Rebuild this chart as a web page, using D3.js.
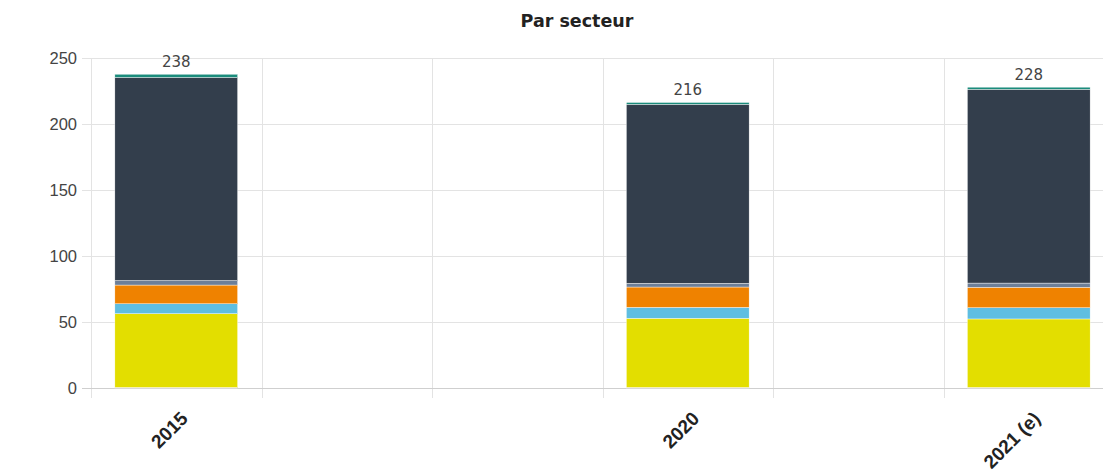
<!DOCTYPE html>
<html lang="fr">
<head>
<meta charset="UTF-8">
<title>Par secteur</title>
<script src="https://d3js.org/d3.v7.min.js"></script>
<style>
  body { margin: 0; background: #fff; overflow: hidden; }
  svg { display: block; font-family: "DejaVu Sans", "Noto Sans", sans-serif; }
  .title { font-weight: bold; font-size: 17.5px; fill: #222; }
  .grid line { stroke: #e3e3e3; }
  .ytick text { font-size: 16.5px; fill: #444; }
  .xtick text { font-size: 19px; font-weight: bold; fill: #222; }
  .total { font-size: 15px; fill: #444; }
</style>
</head>
<body>
<svg id="chart"></svg>
<script>
// band keys and the labels shown under them (some bands carry no label)
const categories = ["2015", "b2", "b3", "2020", "b5", "2021 (e)"];
const tickLabels = ["2015", "", "", "2020", "", "2021 (e)"];
const yTicks = [0, 50, 100, 150, 200, 250];

// stacked series, bottom to top
const seriesNames = ["s1", "s2", "s3", "s4", "s5", "s6", "s7"];
const seriesColors = ["#c9a23a", "#e3de00", "#5fbee1", "#ef8200", "#6d7f98", "#333e4c", "#1b8c7c"];
const s1 = [0.5, null, null, 0.5, null, 0.5];
const s2 = [55.8, null, null, 52.3, null, 51.8];
const s3 = [7.5, null, null, 8.3, null, 8.5];
const s4 = [14.2, null, null, 15.4, null, 15.5];
const s5 = [3.4, null, null, 2.8, null, 3.2];
const s6 = [153.9, null, null, 135.6, null, 146.8];
const s7 = [2.4, null, null, 1.4, null, 1.6];
const seriesValues = [s1, s2, s3, s4, s5, s6, s7];

const width = 1103, height = 470;
const svg = d3.select("#chart").attr("width", width).attr("height", height);

const x = d3.scaleBand().domain(categories).range([91, 1114]).paddingInner(0).paddingOuter(0);
const y = d3.scaleLinear().domain([0, 250]).range([388, 58]);
const barPad = 0.14; // fraction of band left empty on each side

const rows = categories.map((c, i) => {
  const r = { cat: c };
  seriesNames.forEach((s, k) => r[s] = seriesValues[k][i] || 0);
  return r;
});
const stack = d3.stack().keys(seriesNames)(rows);

svg.append("text").attr("class", "title")
  .attr("x", 577).attr("y", 27).attr("text-anchor", "middle").text("Par secteur");

// horizontal grid
const grid = svg.append("g").attr("class", "grid");
grid.selectAll(".h").data(yTicks).enter().append("line")
  .attr("x1", 82).attr("x2", width)
  .attr("y1", d => y(d) + 0.5).attr("y2", d => y(d) + 0.5);

// vertical band separators
const edges = categories.map(c => x(c));
grid.selectAll(".v").data(edges).enter().append("line")
  .attr("x1", d => Math.round(d) + 0.5).attr("x2", d => Math.round(d) + 0.5)
  .attr("y1", 58).attr("y2", 398);

// x baseline
svg.append("line").attr("x1", 82).attr("x2", width)
  .attr("y1", y(0) + 0.5).attr("y2", y(0) + 0.5).attr("stroke", "#cfcfcf");

// y axis labels
const yAxis = d3.axisLeft(y).tickValues(yTicks).tickSize(0).tickPadding(0);
svg.append("g").attr("class", "ytick").attr("transform", "translate(77,0)").call(yAxis)
  .call(g => g.select(".domain").remove())
  .selectAll("text").attr("dy", "0.32em");

// bars
svg.append("g").selectAll("g").data(stack).enter().append("g")
  .attr("fill", (d, i) => seriesColors[i])
  .selectAll("rect").data(d => d.filter(p => p[1] > p[0])).enter().append("rect")
  .attr("x", d => x(d.data.cat) + x.bandwidth() * barPad)
  .attr("width", x.bandwidth() * (1 - 2 * barPad))
  .attr("y", d => y(d[1]))
  .attr("height", d => y(d[0]) - y(d[1]))
  .attr("stroke", "#fff").attr("stroke-width", 0.4);

// totals
const totals = rows.map(r => d3.sum(seriesNames, s => r[s]));
svg.append("g").selectAll("text").data(categories.filter((c, i) => totals[i] > 0)).enter().append("text")
  .attr("class", "total").attr("text-anchor", "middle")
  .attr("x", c => x(c) + x.bandwidth() / 2)
  .attr("y", c => y(totals[categories.indexOf(c)]) - 7)
  .text(c => Math.round(totals[categories.indexOf(c)]));

// x labels, rotated
const xAxis = d3.axisBottom(x).tickSize(0).tickFormat((d, i) => tickLabels[i]);
svg.append("g").attr("class", "xtick").attr("transform", "translate(0,398)").call(xAxis)
  .call(g => g.select(".domain").remove())
  .selectAll("text")
  .attr("text-anchor", "end")
  .attr("transform", "translate(8,17) rotate(-45)")
  .attr("dy", "0.35em").attr("y", 0);
</script>
</body>
</html>
